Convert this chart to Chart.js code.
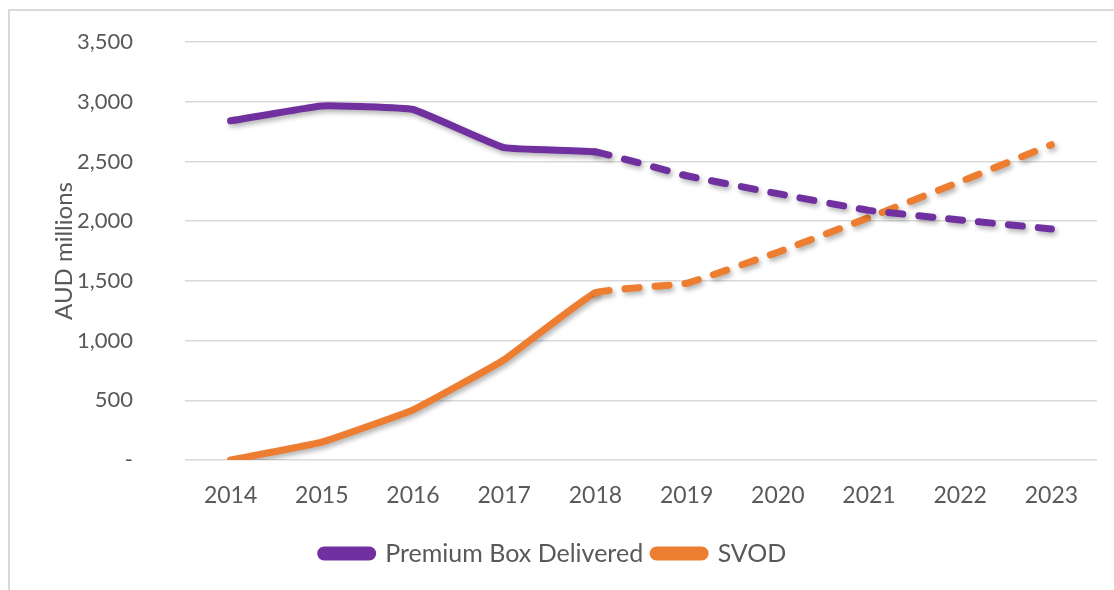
<!DOCTYPE html>
<html>
<head>
<meta charset="utf-8">
<script src="https://cdn.jsdelivr.net/npm/chart.js@4.4.1/dist/chart.umd.min.js"></script>
<style>
  html, body { margin: 0; padding: 0; background: #fff; overflow: hidden; }
  #wrap { position: relative; width: 1114px; height: 590px; }
  #frame { position: absolute; left: 8px; top: 9px; width: 1200px; height: 700px; border: 2px solid #d9d9d9; }
  #chart { position: absolute; left: 0; top: 0; }
</style>
</head>
<body>
<div id="wrap">
  <div id="frame"></div>
  <canvas id="chart" width="1114" height="590"></canvas>
</div>
<script>
// values (AUD millions); 2019+ are projections (dashed)
const years = ['2014', '2015', '2016', '2017', '2018', '2019', '2020', '2021', '2022', '2023'];
const premiumBox = [2840, 2965, 2935, 2615, 2580, 2380, 2230, 2090, 2010, 1935];
const svod = [0, 150, 420, 840, 1400, 1480, 1740, 2030, 2330, 2640];
const yTicks = [0, 500, 1000, 1500, 2000, 2500, 3000, 3500];
const lastActual = 4; // index of 2018

const colors = {
  purple: '#7030a0',
  orange: '#ed7d31',
  text: '#595959',
  grid: '#d9d9d9',
};
const fontFamily = "Lato, 'Open Sans', sans-serif";

const dashAfterActual = ctx => (ctx.p0DataIndex >= lastActual ? [14, 16] : undefined);

// soft drop shadow under the lines, like the Excel original
const lineShadow = {
  id: 'lineShadow',
  beforeDatasetsDraw(chart) {
    const c = chart.ctx;
    c.save();
    c.shadowColor = 'rgba(0,0,0,0.30)';
    c.shadowBlur = 5;
    c.shadowOffsetX = 2;
    c.shadowOffsetY = 3;
  },
  afterDatasetsDraw(chart) {
    chart.ctx.restore();
  },
};

new Chart(document.getElementById('chart'), {
  type: 'line',
  data: {
    labels: years,
    datasets: [
      {
        label: 'Premium Box Delivered',
        data: premiumBox,
        borderColor: colors.purple,
        backgroundColor: colors.purple,
      },
      {
        label: 'SVOD',
        data: svod,
        borderColor: colors.orange,
        backgroundColor: colors.orange,
      },
    ].map(d => ({
      ...d,
      borderWidth: 7,
      borderCapStyle: 'round',
      borderJoinStyle: 'round',
      tension: 0.1,
      pointRadius: 0,
      pointHoverRadius: 0,
      segment: { borderDash: dashAfterActual },
    })),
  },
  options: {
    responsive: false,
    animation: false,
    layout: { padding: { left: 10, right: 17, top: 42, bottom: 14 } },
    plugins: {
      tooltip: { enabled: false },
      legend: {
        position: 'bottom',
        labels: {
          color: colors.text,
          font: { family: fontFamily, size: 25 },
          boxWidth: 52,
          boxHeight: 7,
          useBorderRadius: true,
          borderRadius: 3.5,
          padding: 10,
        },
      },
    },
    scales: {
      x: {
        offset: true,
        grid: { display: false, drawTicks: false },
        border: { display: false },
        ticks: { color: colors.text, font: { family: fontFamily, size: 23 }, padding: 22 },
        afterFit: s => { s.height = 71; },
      },
      y: {
        min: 0,
        max: 3500,
        afterBuildTicks: s => { s.ticks = yTicks.map(v => ({ value: v })); },
        grid: { color: colors.grid, lineWidth: 1.5, drawTicks: false },
        border: { display: false },
        ticks: {
          color: colors.text,
          font: { family: fontFamily, size: 22 },
          padding: 52,
          callback: v => (v === 0 ? '-' : v.toLocaleString('en-US')),
        },
        title: {
          display: true,
          text: 'AUD millions',
          color: colors.text,
          font: { family: fontFamily, size: 24 },
          padding: { top: 40, bottom: 0 },
        },
        afterFit: s => {
          s.width = 175;
          // the big tick padding would otherwise push the plot area down
          s.paddingTop = 0;
          s.paddingBottom = 0;
        },
      },
    },
  },
  plugins: [lineShadow],
});
</script>
</body>
</html>
